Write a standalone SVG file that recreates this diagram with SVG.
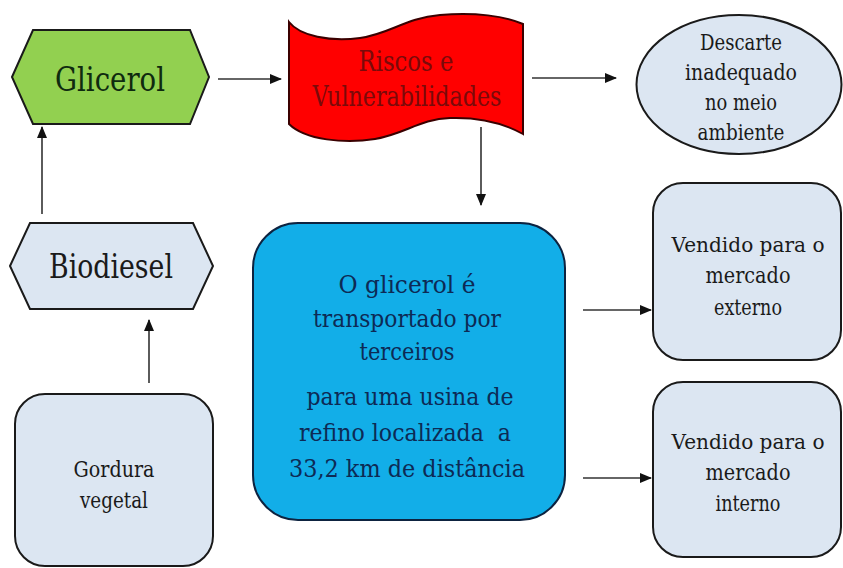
<svg xmlns="http://www.w3.org/2000/svg" width="843" height="568" viewBox="0 0 843 568" font-family="DejaVu Serif, serif">
<defs>
<marker id="ah" markerUnits="userSpaceOnUse" markerWidth="12" markerHeight="10" refX="11" refY="5" orient="auto">
<path d="M0,0 L12,5 L0,10 Z" fill="#111"/>
</marker>
<style>
text{font-family:'DejaVu Serif',serif;text-anchor:middle;fill:#1a1a1a}
.lb{fill:#dce6f2;stroke:#1a1a1a;stroke-width:2}
.c{stroke:#333;stroke-width:1.6;fill:none;marker-end:url(#ah)}
</style>
</defs>
<rect width="843" height="568" fill="#ffffff"/>
<g id="connectors">
<line class="c" x1="218" y1="79" x2="281" y2="79"/>
<line class="c" x1="532" y1="78" x2="616" y2="78"/>
<line class="c" x1="481" y1="127" x2="481" y2="205"/>
<line class="c" x1="42" y1="214" x2="42" y2="127"/>
<line class="c" x1="149" y1="383" x2="149" y2="320"/>
<line class="c" x1="583" y1="310" x2="651" y2="310"/>
<line class="c" x1="583" y1="478" x2="651" y2="478"/>
</g>
<g id="glicerol">
<polygon points="12,77 33,30 190,30 209,77 190,124 33,124" fill="#92d050" stroke="#1a1a1a" stroke-width="2"/>
<text x="110" y="91" font-size="33" textLength="110" lengthAdjust="spacingAndGlyphs" style="fill:#0f2a0f">Glicerol</text>
</g>
<g id="riscos">
<path d="M289,22 C300,36 330,42 360,38 C390,34 405,18 440,15 C475,12 505,16 523,24 L523,134 C505,124 480,117 450,118 C420,119 405,134 375,139 C345,144 305,140 289,124 Z" fill="#ff0000" stroke="#3a0000" stroke-width="2"/>
<text x="406" y="71" font-size="28" textLength="95" lengthAdjust="spacingAndGlyphs" style="fill:#7a0a0a">Riscos e</text>
<text x="407" y="106" font-size="28" textLength="189" lengthAdjust="spacingAndGlyphs" style="fill:#7a0a0a">Vulnerabilidades</text>
</g>
<g id="descarte">
<ellipse class="lb" cx="739" cy="84.5" rx="102.5" ry="69.5"/>
<text x="741" y="50" font-size="23" textLength="82" lengthAdjust="spacingAndGlyphs">Descarte</text>
<text x="741" y="80" font-size="23" textLength="112" lengthAdjust="spacingAndGlyphs">inadequado</text>
<text x="741" y="110" font-size="23" textLength="72" lengthAdjust="spacingAndGlyphs">no meio</text>
<text x="741" y="140" font-size="23" textLength="87" lengthAdjust="spacingAndGlyphs">ambiente</text>
</g>
<g id="biodiesel">
<polygon points="10,266 30,223 193,223 213,266 193,309 30,309" class="lb"/>
<text x="111" y="278" font-size="33" textLength="124" lengthAdjust="spacingAndGlyphs">Biodiesel</text>
</g>
<g id="gordura">
<rect class="lb" x="15" y="394" width="198" height="172" rx="30" ry="30"/>
<text x="114" y="477" font-size="23" textLength="81" lengthAdjust="spacingAndGlyphs">Gordura</text>
<text x="114" y="508" font-size="23" textLength="68" lengthAdjust="spacingAndGlyphs">vegetal</text>
</g>
<g id="glicerol-transporte">
<rect x="253" y="223" width="312" height="297" rx="45" ry="45" fill="#12aee8" stroke="#0d2340" stroke-width="2"/>
<text x="407" y="293" font-size="25" textLength="137" lengthAdjust="spacingAndGlyphs" style="fill:#0d2a55">O glicerol é</text>
<text x="407" y="327" font-size="25" textLength="188" lengthAdjust="spacingAndGlyphs" style="fill:#0d2a55">transportado por</text>
<text x="407" y="360" font-size="25" textLength="95" lengthAdjust="spacingAndGlyphs" style="fill:#0d2a55">terceiros</text>
<text x="410" y="405" font-size="25" textLength="207" lengthAdjust="spacingAndGlyphs" style="fill:#0d2a55">para uma usina de</text>
<text x="405" y="441" font-size="25" textLength="212" lengthAdjust="spacingAndGlyphs" style="fill:#0d2a55" xml:space="preserve">refino localizada  a</text>
<text x="407" y="477" font-size="25" textLength="236" lengthAdjust="spacingAndGlyphs" style="fill:#0d2a55">33,2 km de distância</text>
</g>
<g id="externo">
<rect class="lb" x="653" y="183" width="188" height="177" rx="30" ry="30"/>
<text x="748" y="252" font-size="21" textLength="153" lengthAdjust="spacingAndGlyphs">Vendido para o</text>
<text x="748" y="283" font-size="23" textLength="85" lengthAdjust="spacingAndGlyphs">mercado</text>
<text x="748" y="315" font-size="23" textLength="68" lengthAdjust="spacingAndGlyphs">externo</text>
</g>
<g id="interno">
<rect class="lb" x="653" y="382" width="188" height="175" rx="30" ry="30"/>
<text x="748" y="449" font-size="21" textLength="153" lengthAdjust="spacingAndGlyphs">Vendido para o</text>
<text x="748" y="480" font-size="23" textLength="85" lengthAdjust="spacingAndGlyphs">mercado</text>
<text x="748" y="511" font-size="23" textLength="65" lengthAdjust="spacingAndGlyphs">interno</text>
</g>
</svg>
